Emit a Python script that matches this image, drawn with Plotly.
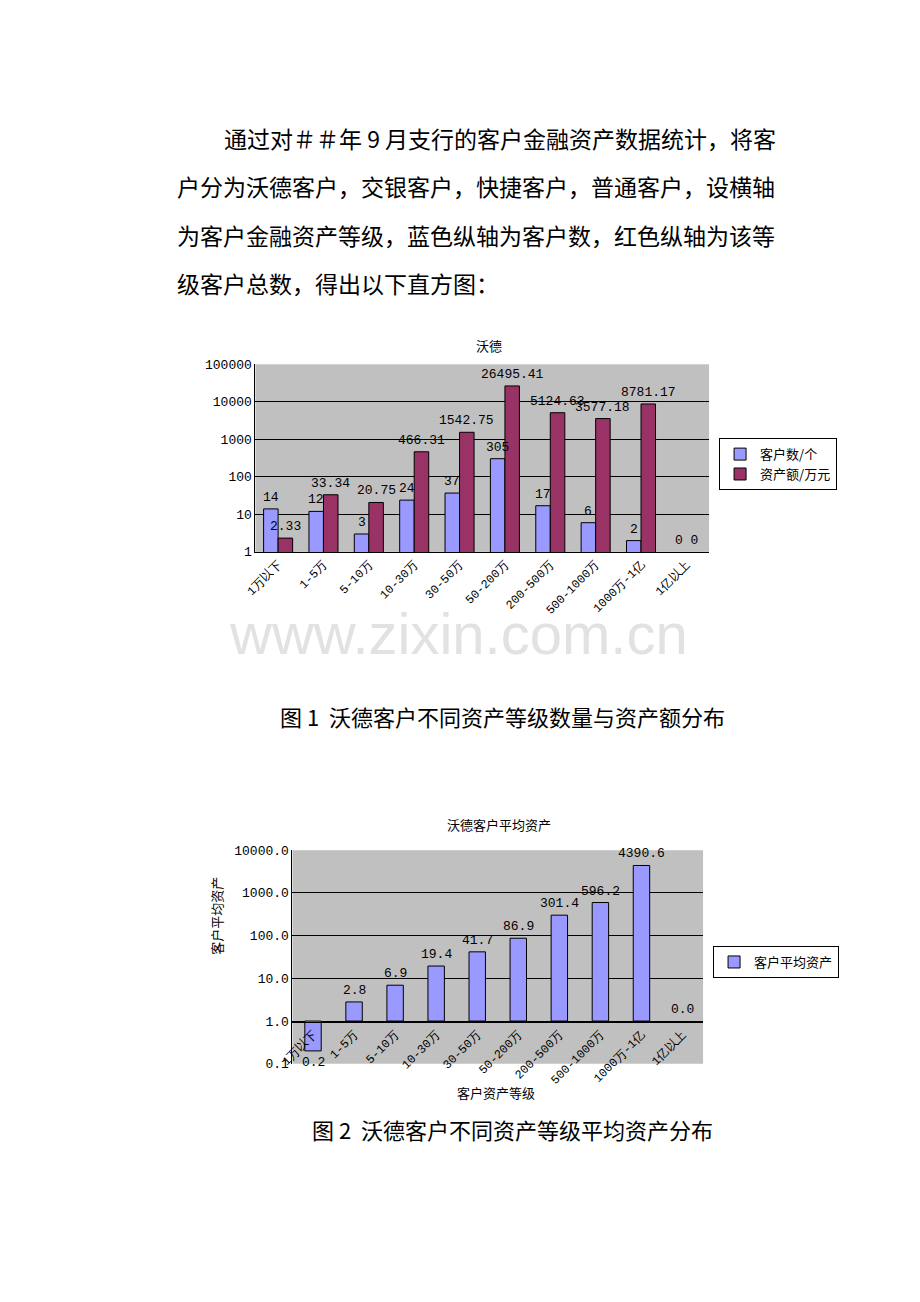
import math
import plotly.graph_objects as go

W, H = 920, 1302

categories = ["1万以下", "1-5万", "5-10万", "10-30万", "30-50万", "50-200万",
              "200-500万", "500-1000万", "1000万-1亿", "1亿以上"]
customers = [14, 12, 3, 24, 37, 305, 17, 6, 2, 0]
assets = [2.33, 33.34, 20.75, 466.31, 1542.75, 26495.41, 5124.63, 3577.18, 8781.17, 0]
avg_assets = [0.2, 2.8, 6.9, 19.4, 41.7, 86.9, 301.4, 596.2, 4390.6, 0.0]

paragraph = [
    "通过对＃＃年 9 月支行的客户金融资产数据统计，将客",
    "户分为沃德客户，交银客户，快捷客户，普通客户，设横轴",
    "为客户金融资产等级，蓝色纵轴为客户数，红色纵轴为该等",
    "级客户总数，得出以下直方图：",
]

BLUE = "#9999ff"
RED = "#993366"
CJK = "Noto Sans CJK SC"
MONO = "Liberation Mono, DejaVu Sans Mono"


# page pixel -> paper coordinate (corrected for how the page gets photographed)
def px(x):
    return ((x - 20.9) / 0.9845) / W


def py(y):
    return 1 - ((y - 12.9) / 0.9907) / H


def nz(vals):
    return [v if v > 0 else None for v in vals]


def lbl(x, y, xr, yr, text, anchor="bottom", shift=2):
    fig.add_annotation(x=x, y=y, xref=xr, yref=yr, text=text, showarrow=False,
                       yanchor=anchor, yshift=shift if anchor == "bottom" else -shift,
                       font=dict(family=MONO, size=13, color="black"))


fig = go.Figure()

fig.add_trace(go.Bar(x=categories, y=nz(customers), name="客户数/个",
                     marker=dict(color=BLUE, line=dict(color="black", width=1)),
                     xaxis="x", yaxis="y", legend="legend", offsetgroup="a"))
fig.add_trace(go.Bar(x=categories, y=nz(assets), name="资产额/万元",
                     marker=dict(color=RED, line=dict(color="black", width=1)),
                     xaxis="x", yaxis="y", legend="legend", offsetgroup="b"))

# chart 2: bars hang from 1.0
fig.add_trace(go.Bar(x=categories, y=[v - 1 if v > 0 else None for v in avg_assets], base=1,
                     name="客户平均资产",
                     marker=dict(color=BLUE, line=dict(color="black", width=1)),
                     xaxis="x2", yaxis="y2", legend="legend2", showlegend=True, width=0.4))

# labels chart 1 (grouped bars: blue on left, red on right)
for i, (c, a) in enumerate(zip(customers, assets)):
    if c > 0:
        lbl(i - 0.16, math.log10(c), "x", "y", str(c))
    if a > 0:
        lbl(i + 0.16, math.log10(a), "x", "y", f"{a:.2f}")
lbl(9, 0, "x", "y", "0 0")

for i, v in enumerate(avg_assets):
    if v >= 1:
        lbl(i, math.log10(v), "x2", "y2", f"{v:.1f}")
    elif v > 0:
        lbl(i, math.log10(v), "x2", "y2", f"{v:.1f}", anchor="top")
    else:
        lbl(i, 0, "x2", "y2", f"{v:.1f}")

axis_common = dict(showline=True, linecolor="black", ticks="",
                   tickangle=-45, tickfont=dict(family=MONO, size=12, color="black"))
yaxis_common = dict(type="log", showgrid=True, gridcolor="black", gridwidth=1,
                    showline=True, linecolor="black", zeroline=False,
                    tickfont=dict(family=MONO, size=13, color="black"))

fig.update_layout(
    width=W, height=H, margin=dict(l=0, r=0, t=0, b=0),
    paper_bgcolor="white", plot_bgcolor="#c0c0c0",
    font=dict(family=CJK, color="black"),
    barmode="group", bargap=0.36, bargroupgap=0,
    xaxis=dict(domain=[px(255), px(708)], anchor="y", **axis_common),
    yaxis=dict(domain=[py(552), py(364)], anchor="x", range=[0, 5],
               tickvals=[1, 10, 100, 1000, 10000, 100000],
               ticktext=["1", "10", "100", "1000", "10000", "100000"], **yaxis_common),
    # category axis crosses at 1.0
    xaxis2=dict(domain=[px(292), px(702)], anchor="free", position=py(1023), **axis_common),
    yaxis2=dict(domain=[py(1065), py(851)], anchor="x2", range=[-1, 4],
                tickvals=[0.1, 1, 10, 100, 1000, 10000],
                ticktext=["0.1", "1.0", "10.0", "100.0", "1000.0", "10000.0"],
                **yaxis_common),
    legend=dict(x=px(718), y=py(438), xanchor="left", yanchor="top",
                bordercolor="black", borderwidth=1, bgcolor="white",
                font=dict(family=CJK, size=13, color="black"), tracegroupgap=0,
                itemwidth=30),
    legend2=dict(x=px(712), y=py(947), xanchor="left", yanchor="top",
                 bordercolor="black", borderwidth=1, bgcolor="white",
                 font=dict(family=CJK, size=13, color="black"), itemwidth=30),
    showlegend=True,
)

# axis titles chart 2
fig.add_annotation(x=px(205), y=py(958), xref="paper", yref="paper", text="客户平均资产",
                   textangle=-90, showarrow=False, font=dict(family=CJK, size=13, color="black"))
fig.add_annotation(x=px(495), y=py(1105), xref="paper", yref="paper", text="客户资产等级",
                   showarrow=False, font=dict(family=CJK, size=13, color="black"))

# paragraph text
starts = [222, 175, 175, 175]
for i, (line, x0) in enumerate(zip(paragraph, starts)):
    fig.add_annotation(x=px(x0), y=py(137 + i * 48.5), xref="paper", yref="paper", text=line,
                       showarrow=False, xanchor="left", yanchor="middle",
                       font=dict(family=CJK, size=23, color="black"))

fig.add_annotation(x=px(488), y=py(334), xref="paper", yref="paper", text="沃德", showarrow=False,
                   font=dict(family=CJK, size=13, color="black"))
fig.add_annotation(x=px(498), y=py(825), xref="paper", yref="paper", text="沃德客户平均资产",
                   showarrow=False, font=dict(family=CJK, size=13, color="black"))

fig.add_annotation(x=px(458), y=py(634), xref="paper", yref="paper", text="www.zixin.com.cn",
                   showarrow=False, font=dict(family="Liberation Sans", size=58, color="#e2e2e2"))

fig.add_annotation(x=px(502), y=py(716), xref="paper", yref="paper",
                   text="图 1  沃德客户不同资产等级数量与资产额分布", showarrow=False,
                   font=dict(family=CJK, size=22, color="black"))
fig.add_annotation(x=px(512), y=py(1148), xref="paper", yref="paper",
                   text="图 2  沃德客户不同资产等级平均资产分布", showarrow=False,
                   font=dict(family=CJK, size=22, color="black"))

fig.write_html("out.html")
